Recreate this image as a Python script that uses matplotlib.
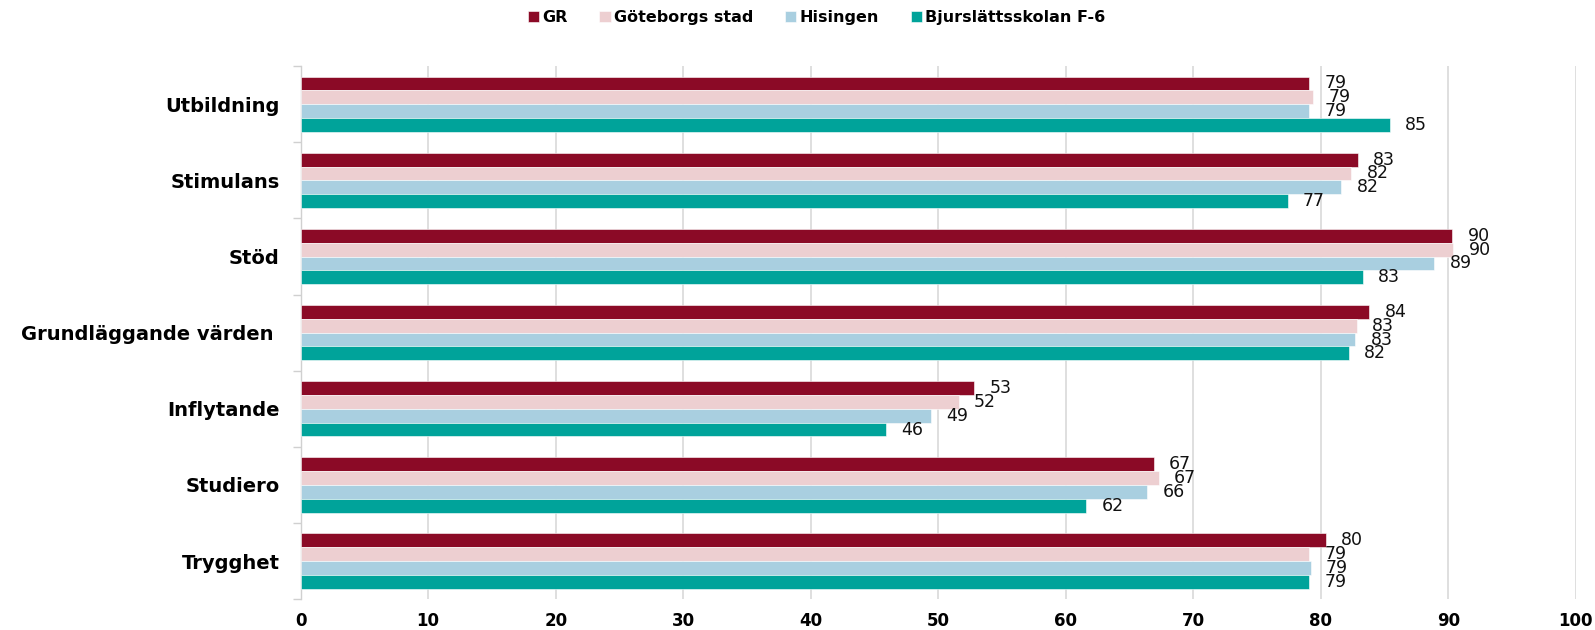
import matplotlib
matplotlib.use("Agg")
import matplotlib.pyplot as plt
import numpy as np

categories = ["Utbildning", "Stimulans", "Stöd", "Grundläggande värden ",
              "Inflytande", "Studiero", "Trygghet"]
series_names = ["GR", "Göteborgs stad", "Hisingen", "Bjurslättsskolan F-6"]
gr = [79.1, 82.9, 90.3, 83.8, 52.8, 66.9, 80.4]
goteborg = [79.4, 82.4, 90.4, 82.8, 51.6, 67.3, 79.1]
hisingen = [79.1, 81.6, 88.9, 82.7, 49.4, 66.4, 79.2]
bjurslatt = [85.4, 77.4, 83.3, 82.2, 45.9, 61.6, 79.1]
x_ticks = [0, 10, 20, 30, 40, 50, 60, 70, 80, 90, 100]

colors = ["#8B0A26", "#EDCFD1", "#A9CFE0", "#00A39A"]

plt.rcParams['font.family'] = ['DejaVu Sans']

fig = plt.figure(figsize=(15.95, 6.3), dpi=100)
ax = fig.add_axes([0.1885, 0.049, 0.7995, 0.846])

n = len(categories)
y = np.arange(n)
group_w = 0.727
bh = group_w / 4
all_series = [gr, goteborg, hisingen, bjurslatt]
for i, (vals, name, c) in enumerate(zip(all_series, series_names, colors)):
    pos = y - group_w / 2 + bh * (i + 0.5)
    bars = ax.barh(pos, vals, height=bh, color=c, label=name,
                   edgecolor='white', linewidth=0.4, zorder=3)
    ax.bar_label(bars, labels=[f"{v:.0f}" for v in vals], padding=11,
                 fontsize=12.5, color='#111111')

ax.set_ylim(n - 0.5, -0.5)
ax.set_xlim(0, 100)
ax.set_xticks(x_ticks)
ax.set_xticklabels([str(t) for t in x_ticks], fontsize=12, fontweight='bold')
ax.set_yticks(y)
ax.set_yticklabels(categories, fontsize=14, fontweight='bold')
ax.set_yticks(np.arange(-0.5, n, 1.0), minor=True)
ax.tick_params(axis='y', which='major', length=0, pad=15)
ax.tick_params(axis='y', which='minor', length=6, color='#d0d0d0', width=1)
ax.tick_params(axis='x', which='major', length=0, pad=9)
ax.grid(axis='x', color='#d9d9d9', linewidth=1.2, zorder=0)
for s in ['top', 'right', 'bottom']:
    ax.spines[s].set_visible(False)
ax.spines['left'].set_color('#d0d0d0')
ax.spines['left'].set_linewidth(1)

handles, labels = ax.get_legend_handles_labels()
fig.legend(handles, labels, loc='center', bbox_to_anchor=(0.512, 0.972),
           ncol=4, frameon=False, handlelength=0.7,
           handleheight=0.7, handletextpad=0.2, columnspacing=2.0,
           prop={'weight': 'bold', 'size': 11.5})

fig.savefig("out.png", dpi=100)
